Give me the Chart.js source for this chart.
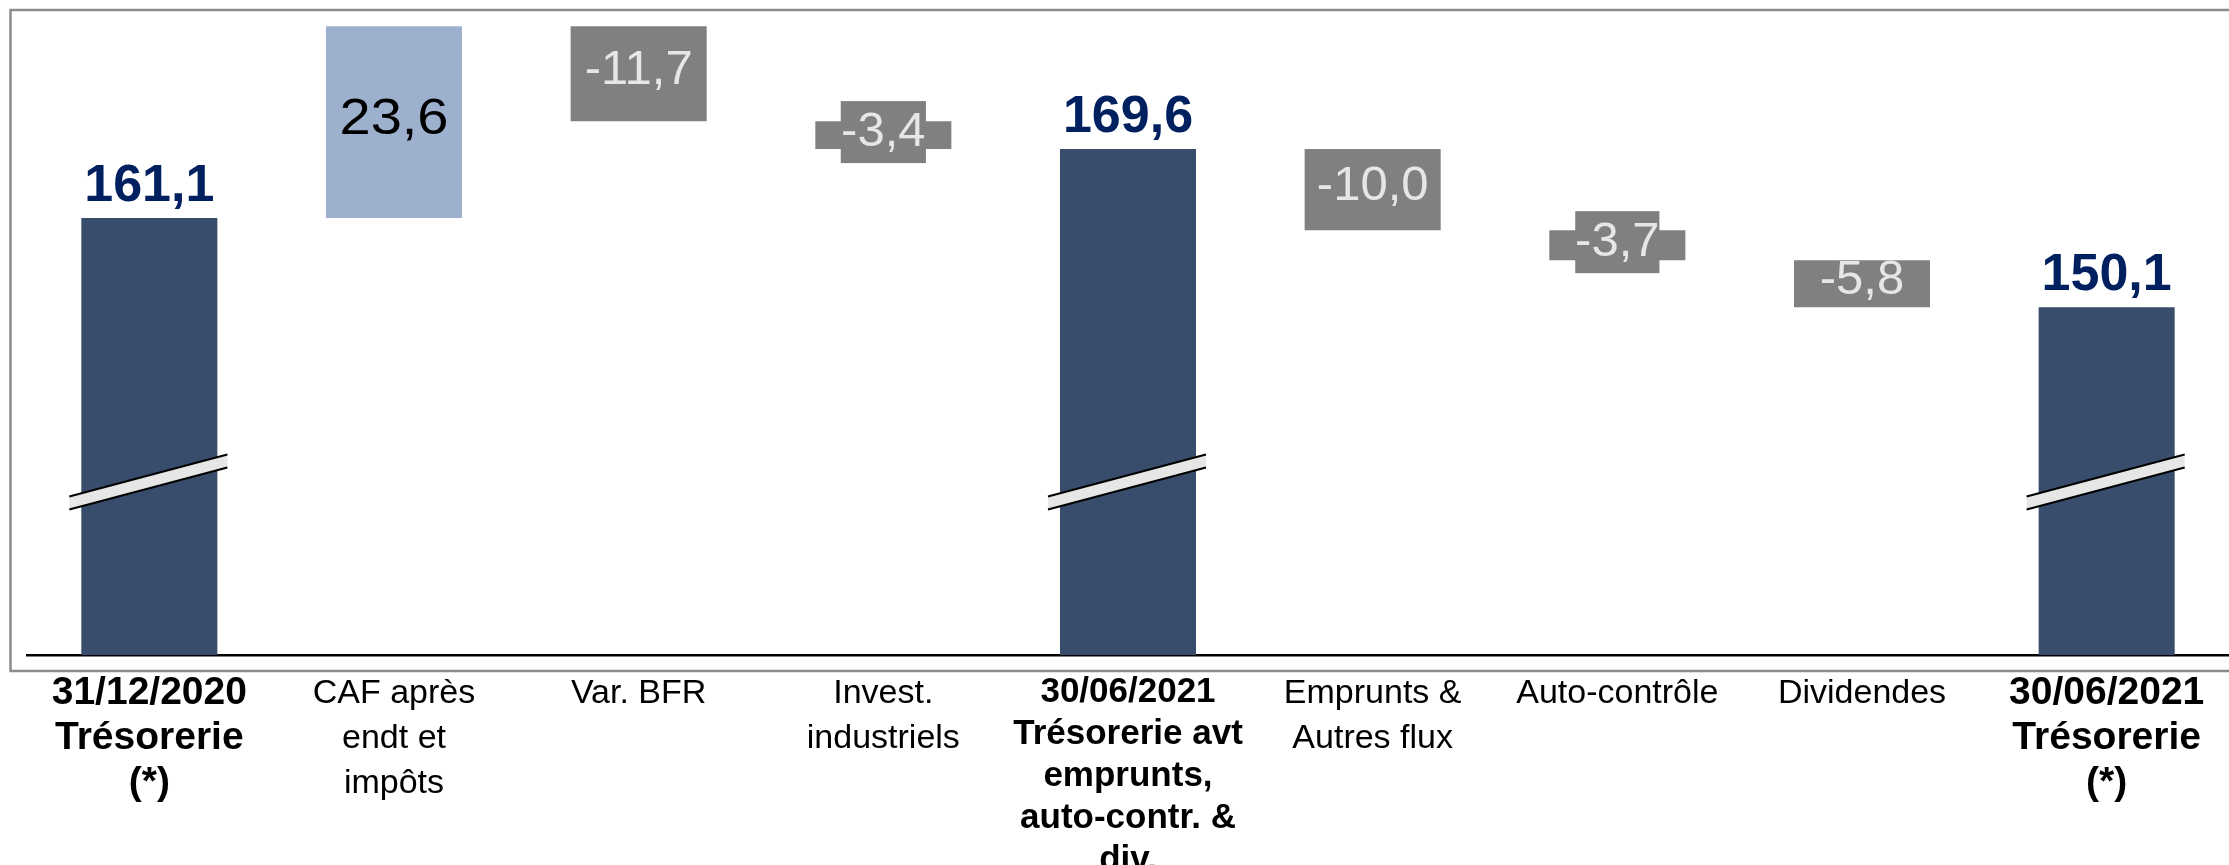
<!DOCTYPE html>
<html>
<head>
<meta charset="utf-8">
<script src="https://cdn.jsdelivr.net/npm/chart.js@4.4.0/dist/chart.umd.min.js"></script>
<style>
  html, body { margin: 0; padding: 0; background: #ffffff; overflow: hidden; }
  #wrap { position: relative; width: 2229px; height: 865px; }
</style>
</head>
<body>
<div id="wrap"><canvas id="c"></canvas></div>
<script>
// ---- Data ----
const categories = [
  ['31/12/2020', 'Trésorerie', '(*)'],
  ['CAF après', 'endt et', 'impôts'],
  ['Var. BFR'],
  ['Invest.', 'industriels'],
  ['30/06/2021', 'Trésorerie avt', 'emprunts,', 'auto-contr. &', 'div.'],
  ['Emprunts &', 'Autres flux'],
  ['Auto-contrôle'],
  ['Dividendes'],
  ['30/06/2021', 'Trésorerie', '(*)']
];
const totals  = [161.1, null, null, null, 169.6, null, null, null, 150.1];
const changes = [null, 23.6, -11.7, -3.4, null, -10.0, -3.7, -5.8, null];

// ---- Styles / scale settings ----
const Y_MIN = 107.3, Y_MAX = 186.7;
const BREAK_VALUE = 128.6;
const NAVY = '#384D6C', LIGHT = '#9DB0CE', GREY = '#808080';
const FONT = '"Liberation Sans", Arial, sans-serif';

// Build waterfall (floating bars) from the arrays
const isTotal = totals.map(v => v !== null);
const barData = [];
let level = 0;
for (let i = 0; i < categories.length; i++) {
  if (isTotal[i]) { barData.push(totals[i]); level = totals[i]; }
  else { const next = Math.round((level + changes[i]) * 10) / 10; barData.push([level, next]); level = next; }
}
const colors = categories.map((_, i) => isTotal[i] ? NAVY : (changes[i] > 0 ? LIGHT : GREY));

function fmt(v) { return v.toFixed(1).replace('.', ','); }

const framePlugin = {
  id: 'frame',
  beforeDatasetsDraw(chart) {
    const ctx = chart.ctx;
    ctx.save();
    ctx.strokeStyle = '#8C8C8C';
    ctx.lineWidth = 2.5;
    ctx.beginPath();
    ctx.moveTo(2240, 10);
    ctx.lineTo(10.5, 10);
    ctx.lineTo(10.5, 671);
    ctx.lineTo(2240, 671);
    ctx.stroke();
    ctx.restore();
  }
};

const labelPlugin = {
  id: 'wfLabels',
  afterDatasetsDraw(chart) {
    const ctx = chart.ctx;
    const meta = chart.getDatasetMeta(0);
    const yScale = chart.scales.y;
    ctx.save();
    meta.data.forEach((bar, i) => {
      const p = bar.getProps(['x', 'y', 'base', 'width'], true);
      const top = Math.min(p.y, p.base), bottom = Math.max(p.y, p.base);
      const left = p.x - p.width / 2, right = p.x + p.width / 2;
      if (isTotal[i]) {
        // axis break symbol
        const yb = yScale.getPixelForValue(BREAK_VALUE);
        const xl = left - 12, xr = right + 10;
        const rise = 21, half = 6.5;
        ctx.fillStyle = '#E6E6E6';
        ctx.beginPath();
        ctx.moveTo(xl, yb + rise - half);
        ctx.lineTo(xr, yb - rise - half);
        ctx.lineTo(xr, yb - rise + half);
        ctx.lineTo(xl, yb + rise + half);
        ctx.closePath();
        ctx.fill();
        ctx.strokeStyle = '#000000';
        ctx.lineWidth = 2;
        ctx.beginPath();
        ctx.moveTo(xl, yb + rise - half); ctx.lineTo(xr, yb - rise - half);
        ctx.moveTo(xl, yb + rise + half); ctx.lineTo(xr, yb - rise + half);
        ctx.stroke();
        // value label
        ctx.font = 'bold 52px ' + FONT;
        ctx.fillStyle = '#002060';
        ctx.textAlign = 'center';
        ctx.textBaseline = 'alphabetic';
        ctx.fillText(fmt(totals[i]), p.x, top - 17);
      } else {
        const v = changes[i];
        const txt = fmt(v);
        const cy = (top + bottom) / 2;
        ctx.textAlign = 'center';
        ctx.textBaseline = 'middle';
        if (v > 0) {
          ctx.font = '50px ' + FONT;
          ctx.fillStyle = '#000000';
          ctx.save();
          ctx.translate(p.x, cy - 2);
          ctx.scale(1.12, 1);
          ctx.fillText(txt, 0, 0);
          ctx.restore();
        } else {
          ctx.font = '49px ' + FONT;
          const m = ctx.measureText(txt);
          const ink = m.actualBoundingBoxLeft + m.actualBoundingBoxRight;
          if (bottom - top < 40) {
            ctx.fillStyle = GREY;
            ctx.fillRect(p.x - ink / 2 - 2, cy - 34, ink + 4, 62);
          }
          ctx.fillStyle = '#E6E6E6';
          ctx.fillText(txt, p.x, cy - 3);
        }
      }
    });
    ctx.restore();
  }
};

new Chart(document.getElementById('c'), {
  type: 'bar',
  data: {
    labels: categories,
    datasets: [{
      data: barData,
      backgroundColor: colors,
      borderWidth: 0,
      barPercentage: 1,
      categoryPercentage: 0.556
    }]
  },
  options: {
    responsive: true,
    maintainAspectRatio: false,
    animation: false,
    devicePixelRatio: 1,
    layout: { padding: { left: 27, right: 0, top: 10, bottom: 0 } },
    plugins: { legend: { display: false }, tooltip: { enabled: false } },
    scales: {
      y: { display: false, min: Y_MIN, max: Y_MAX },
      x: {
        grid: { display: false, drawTicks: false },
        border: { display: true, color: '#000000', width: 2.5 },
        afterFit(scale) { scale.height = 210; },
        ticks: {
          autoSkip: false,
          maxRotation: 0,
          minRotation: 0,
          padding: 16,
          color: '#000000',
          font: (c) => {
            if (c.index === 4) return { family: FONT, size: 35, weight: 'bold', lineHeight: '42px' };
            if (isTotal[c.index]) return { family: FONT, size: 39, weight: 'bold', lineHeight: '45px' };
            return { family: FONT, size: 34, weight: 'normal', lineHeight: '45px' };
          }
        }
      }
    }
  },
  plugins: [framePlugin, labelPlugin]
});
</script>
</body>
</html>
